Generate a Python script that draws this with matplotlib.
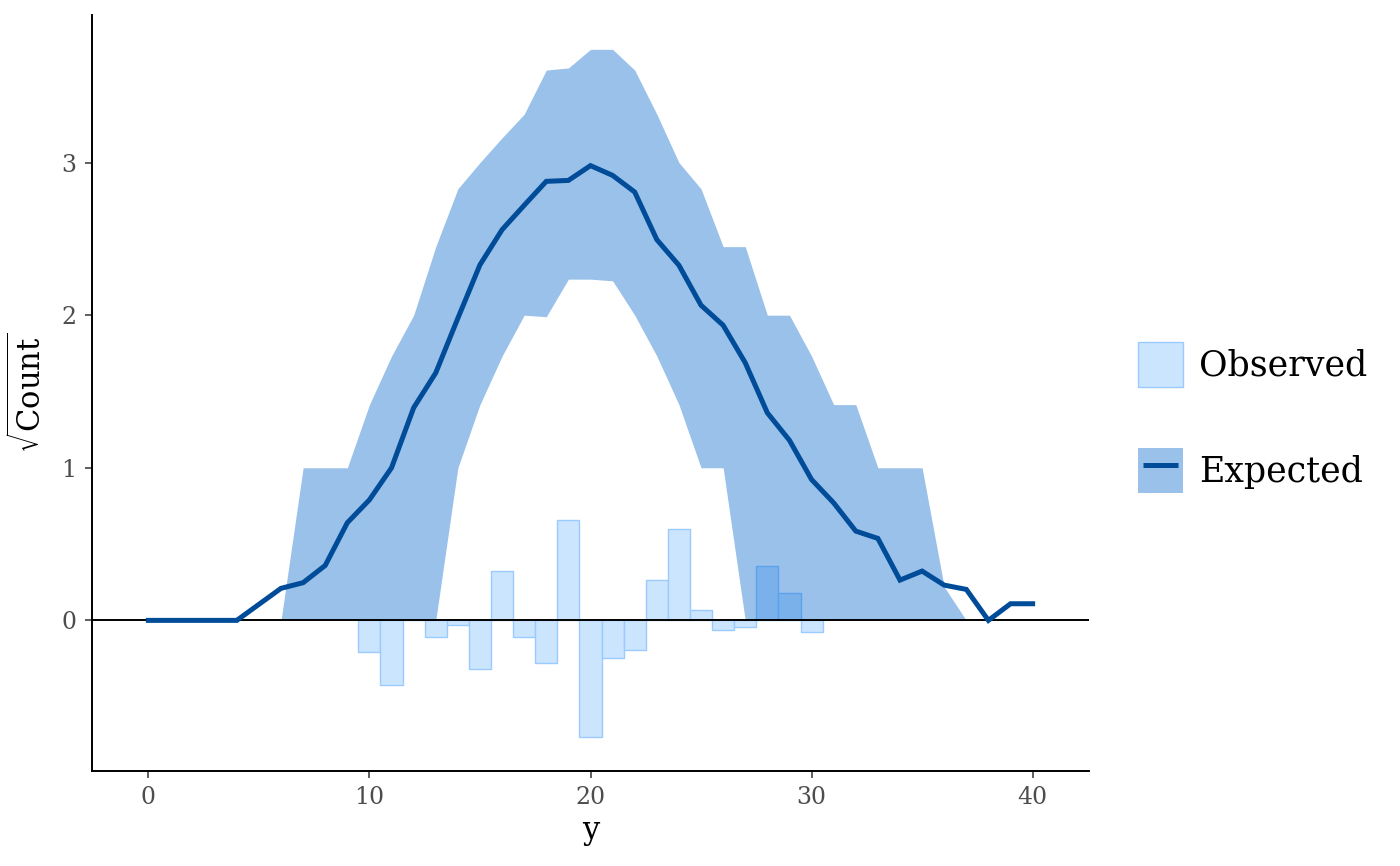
import matplotlib
matplotlib.use("Agg")
import matplotlib.pyplot as plt
from matplotlib.patches import Patch
from matplotlib.lines import Line2D
from matplotlib.legend_handler import HandlerTuple, HandlerLine2D
import numpy as np

plt.rcParams['font.family'] = ['DejaVu Serif']
plt.rcParams['mathtext.fontset'] = 'dejavuserif'

# ---- data ----
y_values = list(range(0, 41))
expected_sqrt = [0, 0, 0, 0, 0, 0.105, 0.21, 0.247, 0.36, 0.64, 0.79,
                 1.0, 1.393, 1.622, 1.98, 2.33, 2.56, 2.72, 2.877, 2.883, 2.98,
                 2.916, 2.807, 2.495, 2.327, 2.065, 1.934, 1.688, 1.36, 1.18, 0.923,
                 0.77, 0.585, 0.537, 0.264, 0.323, 0.231, 0.203, 0.0, 0.109, 0.109]
upper_sqrt = [0, 0, 0, 0, 0, 0, 0, 1.0, 1.0, 1.0, 1.414,
              1.732, 2.0, 2.449, 2.828, 3.0, 3.162, 3.317, 3.606, 3.62, 3.742,
              3.742, 3.606, 3.317, 3.0, 2.828, 2.449, 2.449, 2.0, 2.0, 1.732,
              1.414, 1.414, 1.0, 1.0, 1.0, 0.22, 0, 0, 0, 0]
lower_sqrt = [0, 0, 0, 0, 0, 0, 0, 0, 0, 0, 0,
              0, 0, 0, 1.0, 1.414, 1.732, 2.0, 1.99, 2.236, 2.236,
              2.225, 2.0, 1.732, 1.414, 1.0, 1.0, 0, 0, 0, 0,
              0, 0, 0, 0, 0, 0, 0, 0, 0, 0]
obs_x = list(range(10, 31))
obs_bar = [-0.205, -0.424, 0.0, -0.107, -0.03, -0.316, 0.323, -0.107, -0.282, 0.655,
           -0.762, -0.249, -0.194, 0.264, 0.596, 0.068, -0.065, -0.041, 0.356, 0.181,
           -0.076]
x_ticks = [0, 10, 20, 30, 40]
y_ticks = [0, 1, 2, 3]

# ---- colours ----
light = '#cce5ff'
light_hl = '#99cbff'
dark = '#0065cc'
dark_hl = '#004c99'

fig = plt.figure(figsize=(14, 8.66), dpi=100)
ax = fig.add_axes([92/1400, 95/866, (1089-92)/1400, (771-15)/866])

ax.bar(obs_x, obs_bar, width=1.0, facecolor=light, edgecolor=light_hl,
       linewidth=1.0, zorder=1)
ax.fill_between(y_values, lower_sqrt, upper_sqrt, color=dark, alpha=0.4,
                linewidth=0, zorder=2)
ax.plot(y_values, expected_sqrt, color=dark_hl, linewidth=3.6, zorder=4,
        solid_joinstyle='miter')
ax.axhline(0, color='black', linewidth=1.4, zorder=3)

ax.set_xlim(-2.55, 42.55)
ax.set_ylim(-0.987, 3.967)
ax.set_xticks(x_ticks)
ax.set_yticks(y_ticks)

for s in ['top', 'right']:
    ax.spines[s].set_visible(False)
for s in ['left', 'bottom']:
    ax.spines[s].set_linewidth(1.4)
    ax.spines[s].set_color('black')
ax.tick_params(axis='both', direction='out', length=5, width=1.1,
               color='#333333', labelcolor='#4D4D4D', labelsize=17, pad=6)

ax.set_xlabel('y', fontsize=22, labelpad=4)
ax.set_ylabel(r'$\sqrt{\mathrm{Count}}$', fontsize=22, labelpad=10)

h_obs = Patch(facecolor=light, edgecolor=light_hl, linewidth=1.0)
h_exp = (Patch(facecolor=dark, alpha=0.4, linewidth=0),
         Line2D([], [], color=dark_hl, linewidth=3.6, solid_capstyle='butt'))
fig.legend([h_obs, h_exp], ['Observed', 'Expected'],
           handler_map={tuple: HandlerTuple(ndivide=1, pad=0),
                        Line2D: HandlerLine2D(numpoints=2, marker_pad=0.15)},
           loc='upper left', bbox_to_anchor=(1138/1400, 1 - 342/866),
           frameon=False, fontsize=25, handlelength=1.3, handleheight=1.62,
           labelspacing=1.75, handletextpad=0.45, borderpad=0, borderaxespad=0)

fig.savefig('out.png', dpi=100)
